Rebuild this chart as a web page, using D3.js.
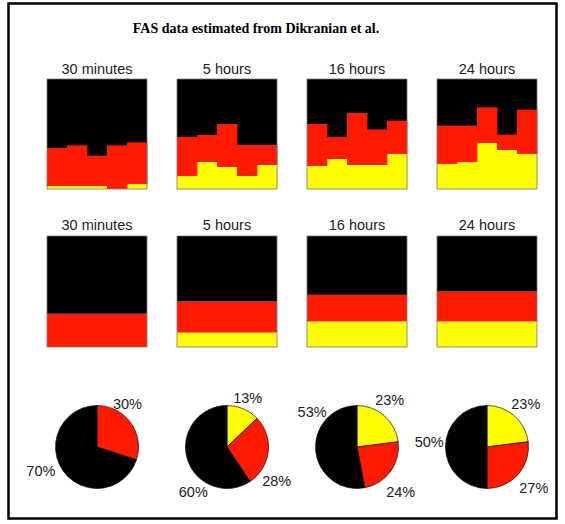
<!DOCTYPE html>
<html>
<head>
<meta charset="utf-8">
<script src="https://cdn.jsdelivr.net/npm/d3@7"></script>
<style>
  html, body { margin: 0; padding: 0; background: #fff; }
  svg { display: block; }
</style>
</head>
<body>
<svg id="chart" width="565" height="524"></svg>
<script>
// ---------------- data ----------------
const chartTitle = "FAS data estimated from Dikranian et al.";
const timeLabels = ["30 minutes", "5 hours", "16 hours", "24 hours"];

// per-sample fractions (5 samples per time point), bottom-up: yellow, red; black = rest
const sampleYellow = [
  [0.027, 0.027, 0.027, 0.000, 0.045],
  [0.118, 0.248, 0.200, 0.121, 0.221],
  [0.212, 0.273, 0.221, 0.221, 0.318],
  [0.227, 0.245, 0.418, 0.358, 0.318]
];
const sampleRed = [
  [0.346, 0.370, 0.276, 0.397, 0.379],
  [0.355, 0.243, 0.391, 0.279, 0.179],
  [0.379, 0.200, 0.470, 0.321, 0.303],
  [0.349, 0.331, 0.324, 0.136, 0.403]
];

// mean percentages per time point
const meanYellow = [0, 13, 23, 23];
const meanRed    = [30, 28, 24, 27];
const meanBlack  = [70, 60, 53, 50];

// pie label placement (degrees clockwise from 12 o'clock) for yellow, red, black
const pieLabelAngle = [
  [null, 35, 247],
  [23, 124, 217],
  [35, 136, 308],
  [42, 131, 275]
];
const pieLabelDist = [
  [null, 53, 61],
  [53, 60, 56],
  [57, 63, 57],
  [58, 62, 58]
];

const stateColors = ["#ffff00", "#ff1a00", "#000000"];

// ---------------- layout ----------------
const svg = d3.select("#chart");
const W = 565, H = 524;

svg.append("rect")
  .attr("x", 8.5).attr("y", 3.5)
  .attr("width", 548).attr("height", 515)
  .attr("fill", "#fff").attr("stroke", "#000").attr("stroke-width", 2.5);

svg.append("text")
  .attr("x", 256).attr("y", 33)
  .attr("text-anchor", "middle")
  .attr("font-family", "'Liberation Serif', 'Times New Roman', serif")
  .attr("font-weight", "bold")
  .attr("font-size", 14)
  .attr("fill", "#000")
  .text(chartTitle);

const xPanel = d3.scaleBand()
  .domain(timeLabels)
  .range([32, 552])
  .paddingInner(30 / 130)
  .paddingOuter(15 / 130);

const labelFont = "'Liberation Sans', Arial, Helvetica, sans-serif";

function panelTitle(label, y) {
  svg.append("text")
    .attr("x", xPanel(label) + xPanel.bandwidth() / 2)
    .attr("y", y)
    .attr("text-anchor", "middle")
    .attr("font-family", labelFont)
    .attr("font-size", 14.5)
    .attr("fill", "#222")
    .text(label);
}

// ---------- row 1: per-sample stacked columns ----------
const row1Top = 79, row1Bottom = 189;
const yRow1 = d3.scaleLinear().domain([0, 1]).range([row1Bottom, row1Top]);

timeLabels.forEach((label, i) => {
  panelTitle(label, 74);
  const x0 = xPanel(label);
  const xs = d3.scaleBand().domain(d3.range(5)).range([x0, x0 + xPanel.bandwidth()]);
  const g = svg.append("g");
  // black background
  g.append("rect")
    .attr("x", x0).attr("y", yRow1(1))
    .attr("width", xPanel.bandwidth()).attr("height", yRow1(0) - yRow1(1))
    .attr("fill", stateColors[2]);
  const rows = d3.range(5).map(j => ({ j, yellow: sampleYellow[i][j], red: sampleRed[i][j] }));
  const stacked = d3.stack().keys(["yellow", "red"])(rows);
  stacked.forEach((layer, k) => {
    g.selectAll(null).data(layer).enter().append("rect")
      .attr("x", d => xs(d.data.j))
      .attr("width", xs.bandwidth() + 0.4)
      .attr("y", d => yRow1(d[1]))
      .attr("height", d => Math.max(0, yRow1(d[0]) - yRow1(d[1])))
      .attr("fill", stateColors[k]);
  });
  g.append("rect")
    .attr("x", x0).attr("y", yRow1(1))
    .attr("width", xPanel.bandwidth()).attr("height", yRow1(0) - yRow1(1))
    .attr("fill", "none").attr("stroke", "#777").attr("stroke-width", 0.8);
});

// ---------- row 2: mean stacked bars ----------
const row2Top = 236, row2Bottom = 347;
const yRow2 = d3.scaleLinear().domain([0, 100]).range([row2Bottom, row2Top]);

timeLabels.forEach((label, i) => {
  panelTitle(label, 230);
  const x0 = xPanel(label);
  const g = svg.append("g");
  const stacked = d3.stack().keys(["yellow", "red", "black"])([
    { yellow: meanYellow[i], red: meanRed[i], black: 100 - meanYellow[i] - meanRed[i] }
  ]);
  stacked.forEach((layer, k) => {
    g.selectAll(null).data(layer).enter().append("rect")
      .attr("x", x0)
      .attr("width", xPanel.bandwidth())
      .attr("y", d => yRow2(d[1]))
      .attr("height", d => Math.max(0, yRow2(d[0]) - yRow2(d[1])))
      .attr("fill", stateColors[k]);
  });
  g.append("rect")
    .attr("x", x0).attr("y", yRow2(100))
    .attr("width", xPanel.bandwidth()).attr("height", yRow2(0) - yRow2(100))
    .attr("fill", "none").attr("stroke", "#777").attr("stroke-width", 0.8);
});

// ---------- row 3: pies ----------
const pieCY = 447, pieR = 41.5;
const pie = d3.pie().sort(null).value(d => d.v);
const arc = d3.arc().innerRadius(0).outerRadius(pieR);

timeLabels.forEach((label, i) => {
  const cx = xPanel(label) + xPanel.bandwidth() / 2;
  const g = svg.append("g").attr("transform", `translate(${cx},${pieCY})`);
  const vals = [meanYellow[i], meanRed[i], meanBlack[i]].map((v, k) => ({ v, k }));
  const arcs = pie(vals);
  g.selectAll("path").data(arcs.filter(a => a.data.v > 0)).enter().append("path")
    .attr("d", arc)
    .attr("fill", d => stateColors[d.data.k])
    .attr("stroke", "#111").attr("stroke-width", 0.7)
    .attr("stroke-linejoin", "round");
  arcs.forEach(a => {
    if (a.data.v <= 0) return;
    const k = a.data.k;
    const ang = pieLabelAngle[i][k] * Math.PI / 180;
    const dist = pieLabelDist[i][k];
    g.append("text")
      .attr("x", Math.sin(ang) * dist)
      .attr("y", -Math.cos(ang) * dist)
      .attr("text-anchor", "middle")
      .attr("dominant-baseline", "central")
      .attr("font-family", labelFont)
      .attr("font-size", 14.5)
      .attr("fill", "#222")
      .text(a.data.v + "%");
  });
});
</script>
</body>
</html>
